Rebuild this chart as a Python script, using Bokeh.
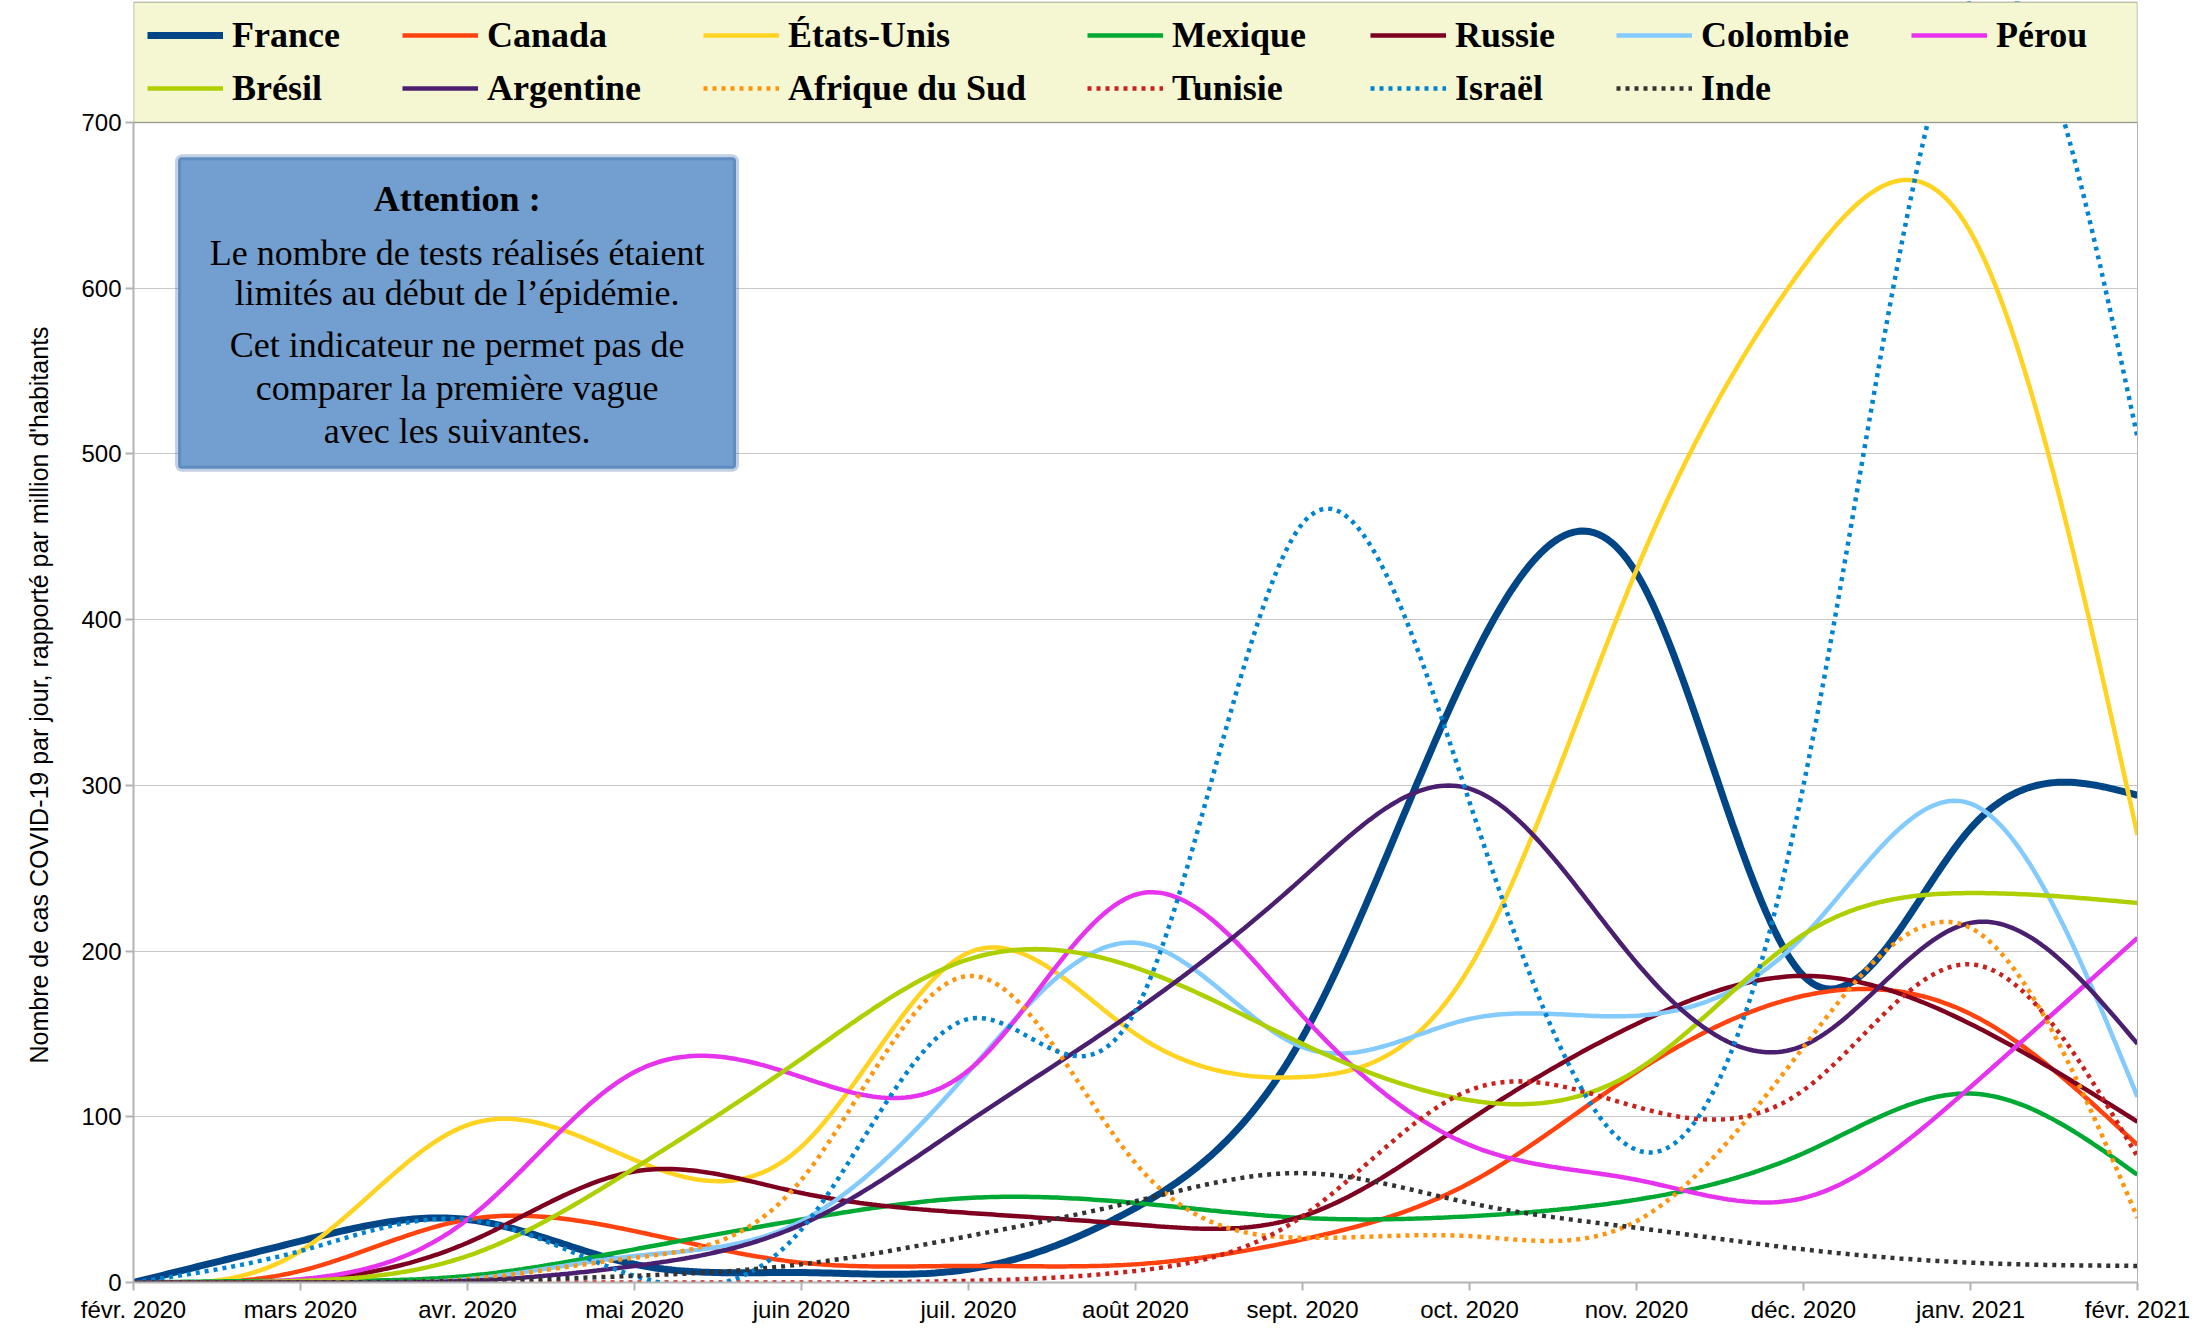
import numpy as np
from bokeh.plotting import figure
from bokeh.models import (Range1d, FixedTicker, Legend, LegendItem, BoxAnnotation, Label,
                          LinearAxis, Title)
from bokeh.embed import file_html
from bokeh.resources import INLINE

# ---- data (cases per day per million, read at each month) ----
months = ["févr. 2020", "mars 2020", "avr. 2020", "mai 2020", "juin 2020", "juil. 2020",
          "août 2020", "sept. 2020", "oct. 2020", "nov. 2020", "déc. 2020", "janv. 2021", "févr. 2021"]
france   = [0, 25, 38, 11, 6, 8, 45, 148, 372, 428, 185, 274, 294]
canada   = [0, 7, 38, 31, 12, 10, 11, 26, 60, 127, 173, 162, 83]
etats_unis = [0, 19, 95, 74, 82, 199, 150, 124, 190, 430, 613, 634, 270]
mexique  = [0, 1, 4, 20, 38, 51, 48, 39, 40, 50, 78, 114, 65]
russie   = [0, 1, 24, 67, 54, 42, 35, 40, 98, 156, 185, 156, 97]
colombie = [0, 0, 2, 16, 37, 127, 205, 142, 159, 161, 209, 289, 112]
perou    = [0, 2, 38, 127, 124, 128, 234, 161, 83, 62, 51, 118, 208]
bresil   = [0, 1, 16, 69, 135, 195, 190, 144, 110, 128, 210, 235, 229]
argentine = [0, 0, 1, 10, 35, 97, 164, 244, 298, 193, 143, 217, 144]
afrique_du_sud = [0, 0, 2, 15, 62, 185, 72, 27, 28, 37, 142, 214, 39]
tunisie  = [0, 0, 0, 0, 0, 1, 7, 40, 116, 106, 116, 192, 76]
israel   = [0, 19, 38, 4, 32, 159, 164, 458, 290, 80, 300, 775, 510]
inde     = [0, 0, 1, 4, 11, 28, 49, 66, 48, 33, 20, 12, 10]

y_ticks = [0, 100, 200, 300, 400, 500, 600, 700]
Y_MAX = 700

series = [
    ("France", france, "#004586", 7, "solid"),
    ("Canada", canada, "#ff420e", 4.5, "solid"),
    ("États-Unis", etats_unis, "#ffd320", 4.5, "solid"),
    ("Mexique", mexique, "#00a933", 4.5, "solid"),
    ("Russie", russie, "#7e0021", 4.5, "solid"),
    ("Colombie", colombie, "#83caff", 4.5, "solid"),
    ("Pérou", perou, "#e533ee", 4.5, "solid"),
    ("Brésil", bresil, "#aecf00", 4.5, "solid"),
    ("Argentine", argentine, "#4b1f6f", 4.5, "solid"),
    ("Afrique du Sud", afrique_du_sud, "#ff950e", 4.5, "4 5"),
    ("Tunisie", tunisie, "#c9211e", 4.5, "4 5"),
    ("Israël", israel, "#0084d1", 4.5, "4 5"),
    ("Inde", inde, "#333333", 4.5, "4 5"),
]


def natural_spline(vals, per=40):
    y = np.asarray(vals, dtype=float)
    n = len(y)
    A = np.zeros((n, n))
    b = np.zeros(n)
    A[0, 0] = 1.0
    A[-1, -1] = 1.0
    for i in range(1, n - 1):
        A[i, i - 1] = 1.0
        A[i, i] = 4.0
        A[i, i + 1] = 1.0
        b[i] = 6.0 * (y[i + 1] - 2 * y[i] + y[i - 1])
    M = np.linalg.solve(A, b)
    xs = np.linspace(0, n - 1, (n - 1) * per + 1)
    idx = np.minimum(np.floor(xs).astype(int), n - 2)
    t = xs - idx
    u = 1 - t
    ys = (y[idx] * u + y[idx + 1] * t
          + M[idx] * (u ** 3 - u) / 6.0 + M[idx + 1] * (t ** 3 - t) / 6.0)
    return xs, ys


# ---- layout (pixels) ----
W, H = 2202, 1334
PLOT_LEFT, PLOT_RIGHT = 133, 2137        # plot area in page pixels
PLOT_TOP, PLOT_BOTTOM = 122, 1282        # value 700 .. value 0
CANVAS_TOP = 1                           # frame extends up to hold the legend band
px_per_unit = (PLOT_BOTTOM - PLOT_TOP) / Y_MAX
y_top = Y_MAX + (PLOT_TOP - CANVAS_TOP) / px_per_unit

p = figure(width=W, height=H, output_backend="svg", toolbar_location=None,
           x_range=Range1d(0, len(months) - 1), y_range=Range1d(0, y_top),
           min_border_left=PLOT_LEFT, min_border_right=W - PLOT_RIGHT,
           min_border_bottom=H - PLOT_BOTTOM, min_border_top=CANVAS_TOP)
p.background_fill_color = "white"
p.border_fill_color = "white"
p.outline_line_color = None

renderers = {}
for name, vals, color, lw, dash in series:
    xs, ys = natural_spline(vals)
    r = p.line(xs, ys, line_color=color, line_width=lw, line_dash=dash, line_cap="butt")
    renderers[name] = r

# axes
p.xaxis.ticker = FixedTicker(ticks=list(range(len(months))))
p.xaxis.major_label_overrides = {i: m for i, m in enumerate(months)}
p.yaxis.ticker = FixedTicker(ticks=y_ticks)
p.yaxis.bounds = (0, Y_MAX)
for ax in (p.xaxis, p.yaxis):
    ax.axis_line_color = "#b3b3b3"
    ax.axis_line_width = 2
    ax.major_tick_line_color = "#b3b3b3"
    ax.major_tick_line_width = 2
    ax.major_tick_out = 8
    ax.major_tick_in = 0
    ax.minor_tick_line_color = None
    ax.major_label_text_font = "Liberation Sans"
    ax.major_label_text_font_size = "24px"
    ax.major_label_text_color = "black"
p.xaxis.major_label_standoff = 5
p.yaxis.major_label_standoff = 4
p.xgrid.grid_line_color = None
p.ygrid.grid_line_color = "#c8c8c8"
p.ygrid.grid_line_width = 1

# y-axis title, centred on the 0..700 plot area (placed as a side title)
ytitle = Title(text="Nombre de cas COVID-19 par jour, rapporté par million d'habitants",
               align="left", offset=219, standoff=48, vertical_align="top",
               text_font="Liberation Sans", text_font_style="normal",
               text_font_size="25px", text_color="black")
p.add_layout(ytitle, "left")

# right border of the plot area
right_ax = LinearAxis(ticker=FixedTicker(ticks=[]), bounds=(0, Y_MAX),
                      axis_line_color="#b3b3b3", axis_line_width=1,
                      major_tick_line_color=None, minor_tick_line_color=None,
                      major_label_text_font_size="0px")
p.add_layout(right_ax, "right")

# legend band above the plot area
legend_bg = BoxAnnotation(left=0, right=len(months) - 1, bottom=Y_MAX, top=y_top - 0.3,
                          fill_color="#f5f7d2", fill_alpha=1.0,
                          line_color="black", line_width=1.5)
p.add_layout(legend_bg)

# legend: 7 columns x 2 rows, one Legend per column
columns = [["France", "Brésil"], ["Canada", "Argentine"], ["États-Unis", "Afrique du Sud"],
           ["Mexique", "Tunisie"], ["Russie", "Israël"], ["Colombie", "Inde"], ["Pérou"]]
col_offsets = [14, 269, 570, 954, 1237, 1483, 1778]
ROW_H, ROW_GAP = 44, 9
LEG_TOP = 13
for names, xoff in zip(columns, col_offsets):
    n = len(names)
    bottom = LEG_TOP + n * ROW_H + (n - 1) * ROW_GAP
    leg = Legend(items=[LegendItem(label=nm, renderers=[renderers[nm]]) for nm in names],
                 location=(xoff, PLOT_BOTTOM - bottom), orientation="vertical",
                 label_text_font="Liberation Serif", label_text_font_style="bold",
                 label_text_font_size="36px", label_text_color="black",
                 glyph_width=76, glyph_height=40, label_standoff=9, label_height=ROW_H,
                 spacing=ROW_GAP, padding=0, margin=0,
                 border_line_color=None, background_fill_alpha=0.0)
    p.add_layout(leg)

# warning box
box = BoxAnnotation(left=0.267, right=3.608, bottom=491, top=679,
                    fill_color="#729fcf", fill_alpha=1.0,
                    line_color="#3465a4", line_width=6, border_radius=4)
p.add_layout(box)

lines = [
    ("Attention :", 654, "bold"),
    ("Le nombre de tests réalisés étaient", 621, "normal"),
    ("limités au début de l’épidémie.", 597, "normal"),
    ("Cet indicateur ne permet pas de", 565.5, "normal"),
    ("comparer la première vague", 539.5, "normal"),
    ("avec les suivantes.", 514, "normal"),
]
for txt, yy, style in lines:
    p.add_layout(Label(x=1.938, y=yy, text=txt, text_align="center", text_baseline="middle",
                       text_font="Liberation Serif", text_font_style=style,
                       text_font_size="36px", text_color="black"))

open("out.html", "w").write(file_html(p, INLINE))
